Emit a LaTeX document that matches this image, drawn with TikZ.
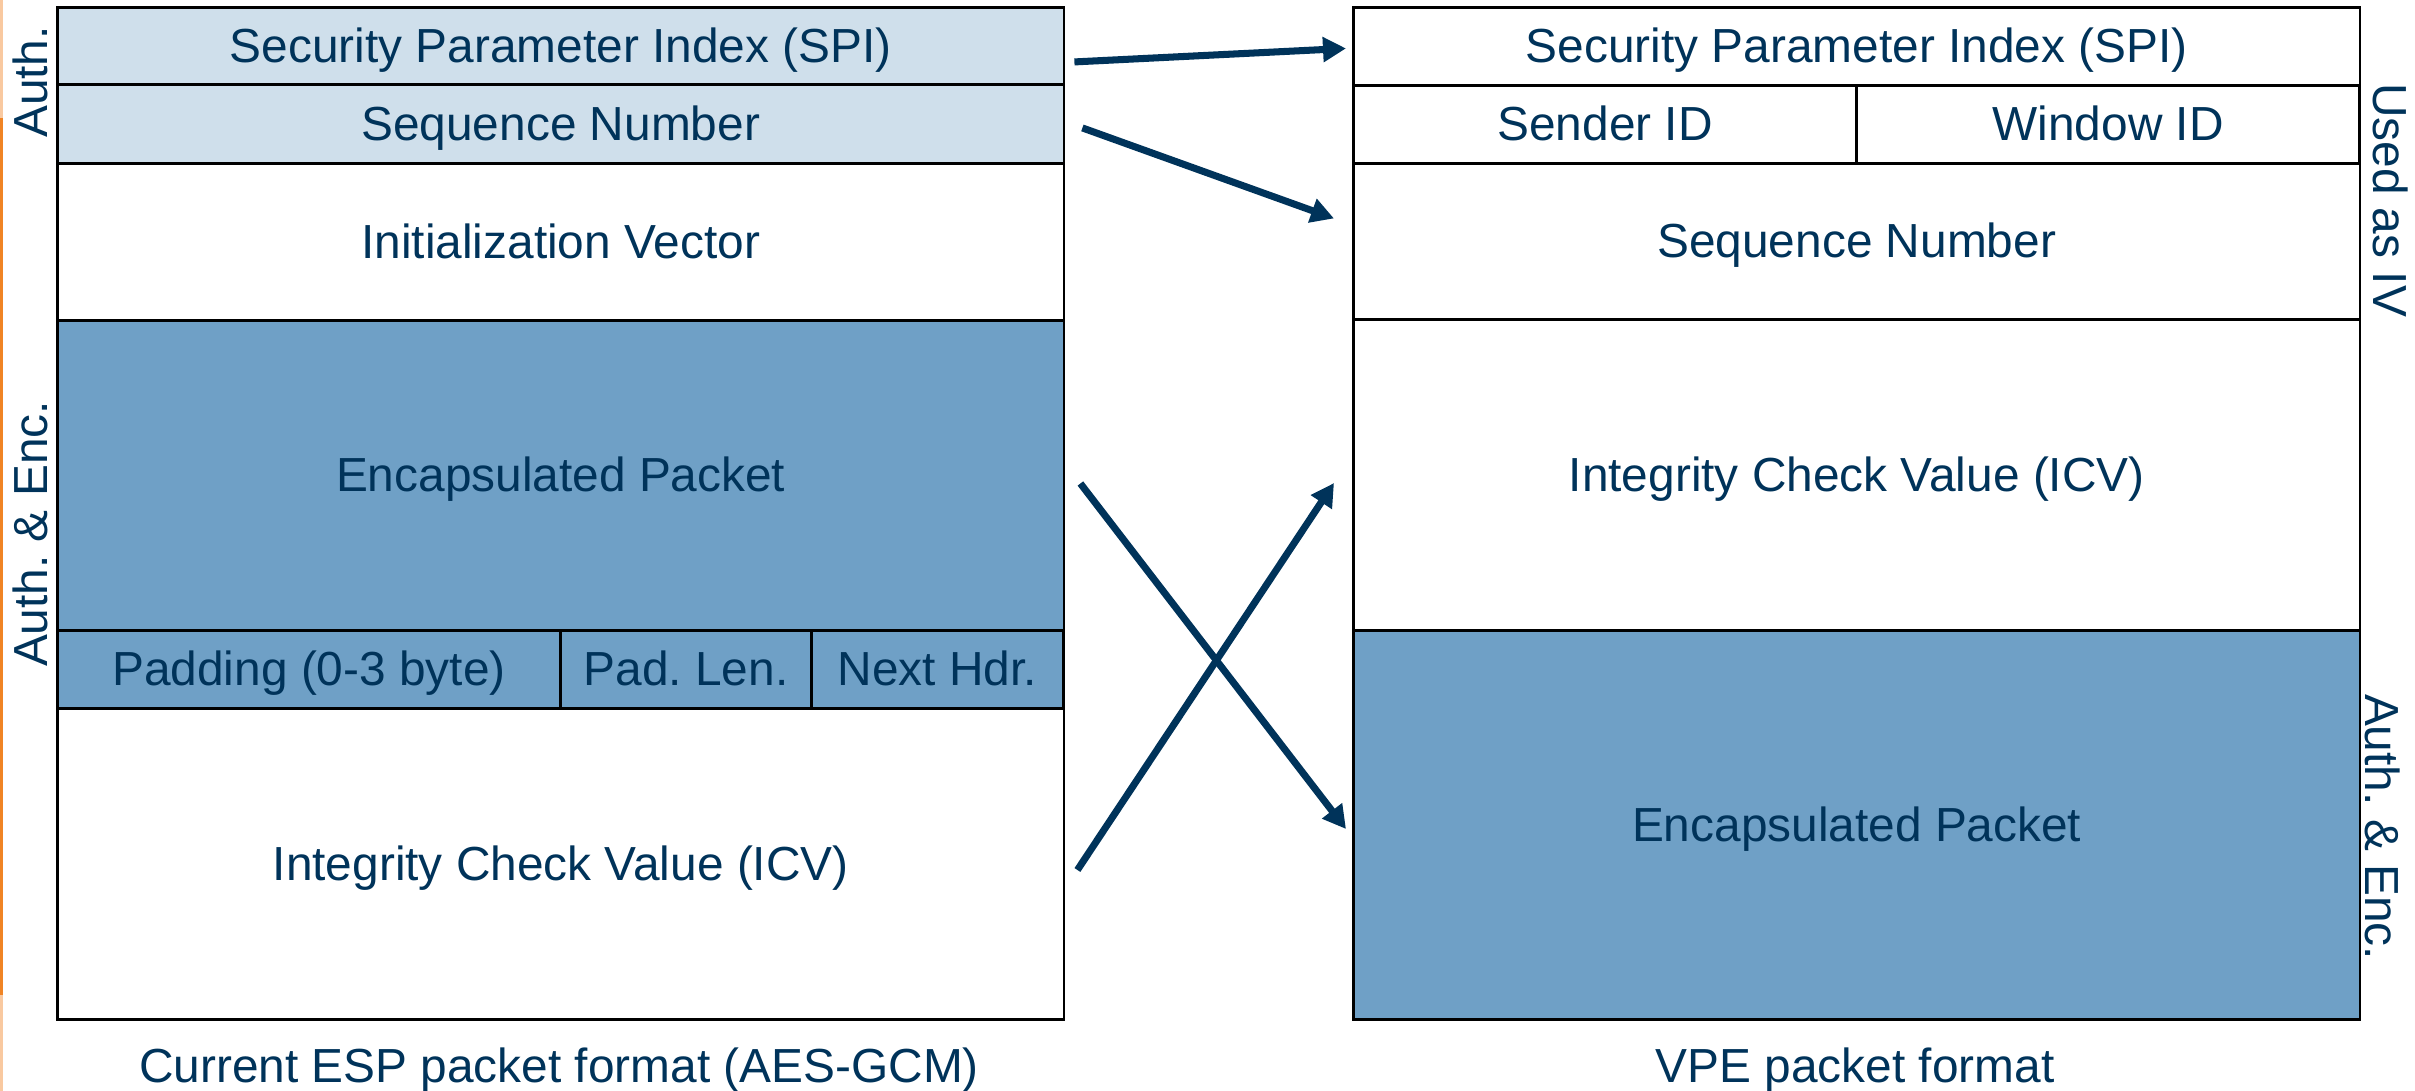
\documentclass[tikz,border=0pt]{standalone}
\usepackage{fontspec}
\setmainfont{Liberation Sans}
\usetikzlibrary{arrows.meta,calc}
\frenchspacing

\definecolor{navy}{HTML}{00335A}
\definecolor{lightfill}{HTML}{CFDFEB}
\definecolor{darkfill}{HTML}{6FA0C6}
\definecolor{edgeorange}{HTML}{F08424}
\definecolor{paleorange}{HTML}{F9C9A0}

\tikzset{
  lbl/.style={font=\fontsize{13.6}{16}\selectfont\frenchspacing, text=navy},
  cell/.style={lbl, draw=black, line width=0.8pt, anchor=north west,
               inner sep=0pt, minimum height=#1,
               text height=1.1em, text depth=0.18em},
  wfull/.style={minimum width=10.06cm},
  light/.style={fill=lightfill},
  dark/.style={fill=darkfill},
  blank/.style={fill=white},
  flow/.style={draw=navy, line width=2pt,
               -{Triangle[length=0.23cm,width=0.24cm]}},
}

\begin{document}
\begin{tikzpicture}[x=0.01cm,y=-0.01cm]
\useasboundingbox (0,0) rectangle (2415,1091);

% thin orange strip along the left edge
\fill[paleorange] (0,0) rectangle (3,1091);
\fill[edgeorange] (0,118) rectangle (3,995);

% ---- current ESP packet (AES-GCM) ----
\node[cell=0.77cm, wfull, light] (spiL) at (56,6)   {Security Parameter Index (SPI)};
\node[cell=0.79cm, wfull, light] (seqL) at (56,83)  {Sequence Number};
\node[cell=1.57cm, wfull, blank] (ivL)  at (56,162) {Initialization Vector};
\node[cell=3.10cm, wfull, dark]  (encL) at (56,319) {Encapsulated Packet};
\node[cell=0.78cm, minimum width=5.03cm, dark] (padL) at (56,629)  {Padding (0-3 byte)};
\node[cell=0.78cm, minimum width=2.51cm, dark] (plen) at (559,629) {Pad. Len.};
\node[cell=0.78cm, minimum width=2.52cm, dark] (nhdr) at (810,629) {Next Hdr.};
\node[cell=3.11cm, wfull, blank] (icvL) at (56,707) {Integrity Check Value (ICV)};

\node[lbl, rotate=90] (authL)  at (30,82)  {Auth.};
\node[lbl, rotate=90] (aencL)  at (30,534) {Auth. \& Enc.};
\node[lbl, anchor=base] (capL) at (559,1082) {Current ESP packet format (AES-GCM)};

% ---- VPE packet ----
\node[cell=0.78cm, wfull, blank] (spiR) at (1352,6) {Security Parameter Index (SPI)};
\node[cell=0.78cm, minimum width=5.03cm, blank] (sndR) at (1352,84) {Sender ID};
\node[cell=0.78cm, minimum width=5.03cm, blank] (winR) at (1855,84) {Window ID};
\node[cell=1.56cm, wfull, blank] (seqR) at (1352,162) {Sequence Number};
\node[cell=3.11cm, wfull, blank] (icvR) at (1352,318) {Integrity Check Value (ICV)};
\node[cell=3.89cm, wfull, dark]  (encR) at (1352,629) {Encapsulated Packet};

\node[lbl, rotate=-90] (ivR)   at (2391,200) {Used as IV};
\node[lbl, rotate=-90] (aencR) at (2383,827) {Auth. \& Enc.};
\node[lbl, anchor=base] (capR) at (1855,1082) {VPE packet format};

% ---- field mapping ----
\draw[flow] ($(spiL.east)+(9,16)$)  -- ($(spiR.west)+(-6,2)$);
\draw[flow] ($(seqL.east)+(17,4)$)  -- ($(seqR.west)+(-18,-23)$);
\draw[flow] ($(encL.east)+(15,8)$)  -- ($(encR.west)+(-6,4)$);
\draw[flow] ($(icvL.east)+(12,6)$)  -- ($(icvR.west)+(-18,8)$);
\end{tikzpicture}
\end{document}
